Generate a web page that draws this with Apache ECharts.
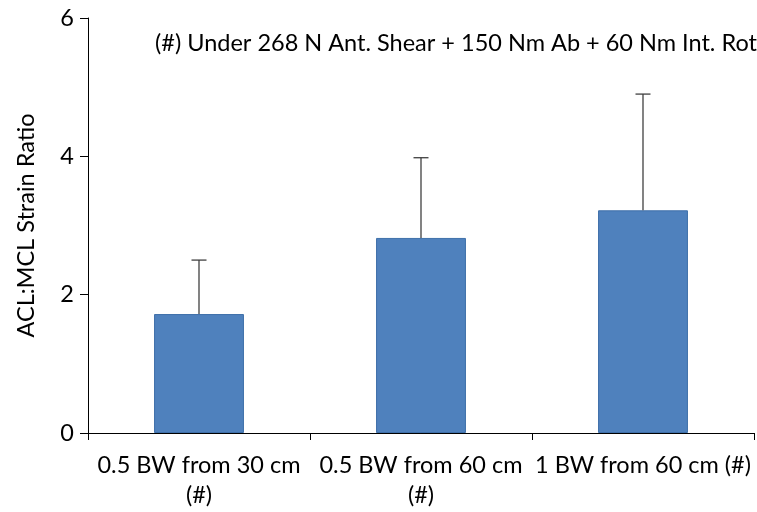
<!DOCTYPE html>
<html><head><meta charset="utf-8">
<script src="https://cdn.jsdelivr.net/npm/echarts@6/dist/echarts.min.js"></script>
<style>html,body{margin:0;padding:0;background:#fff}#c{width:757px;height:512px}</style>
</head><body><div id="c"></div>
<script>
const categories = ['0.5 BW from 30 cm\n(#)', '0.5 BW from 60 cm\n(#)', '1 BW from 60 cm (#)'];
const means = [1.72, 2.82, 3.22];
const upperErr = [2.50, 3.98, 4.90];
const yTicks = [0, 2, 4, 6];
const noteText = '(#) Under 268 N Ant. Shear + 150 Nm Ab + 60 Nm Int. Rot';
const yName = 'ACL:MCL Strain Ratio';

const font = 'Lato, "Open Sans", sans-serif';
const fs = 23.5;
const chart = echarts.init(document.getElementById('c'));
chart.setOption({
  animation: false,
  backgroundColor: '#fff',
  grid: {left: 88, right: 3, top: 18, bottom: 79, containLabel: false},
  graphic: [{
    type: 'text', left: 155, top: 31,
    style: {text: noteText, font: fs + 'px ' + font, fill: '#000'}
  }],
  xAxis: {
    type: 'category', data: categories,
    axisLine: {lineStyle: {color: '#000', width: 1}},
    axisTick: {show: true, length: 7, alignWithLabel: false, lineStyle: {color: '#000'}},
    axisLabel: {color: '#000', fontSize: fs, fontFamily: font, margin: 17, lineHeight: 30, interval: 0}
  },
  yAxis: {
    type: 'value', min: 0, max: 6, interval: 2,
    name: yName, nameLocation: 'middle', nameGap: 50, nameRotate: 90,
    nameTextStyle: {color: '#000', fontSize: fs, fontFamily: font},
    axisLine: {show: true, lineStyle: {color: '#000', width: 1}},
    axisTick: {show: true, length: 8, lineStyle: {color: '#000'}},
    axisLabel: {color: '#000', fontSize: fs, fontFamily: font, margin: 14,
      formatter: v => yTicks.includes(v) ? String(v) : ''},
    splitLine: {show: false}
  },
  series: [{
    type: 'bar', data: means, barWidth: '40.5%',
    itemStyle: {color: '#4F81BD', borderColor: '#3F70AA', borderWidth: 1}
  }, {
    type: 'custom',
    data: categories.map((c, i) => [i, means[i], upperErr[i]]),
    renderItem: function (params, api) {
      const base = api.coord([api.value(0), api.value(1)]);
      const top = api.coord([api.value(0), api.value(2)]);
      const half = 7.5;
      return {type: 'group', children: [
        {type: 'line', shape: {x1: base[0], y1: base[1], x2: top[0], y2: top[1]}, style: {stroke: '#404040', lineWidth: 1.3}},
        {type: 'line', shape: {x1: top[0] - half, y1: top[1], x2: top[0] + half, y2: top[1]}, style: {stroke: '#404040', lineWidth: 1.3}}
      ]};
    },
    z: 5
  }]
});
</script></body></html>
